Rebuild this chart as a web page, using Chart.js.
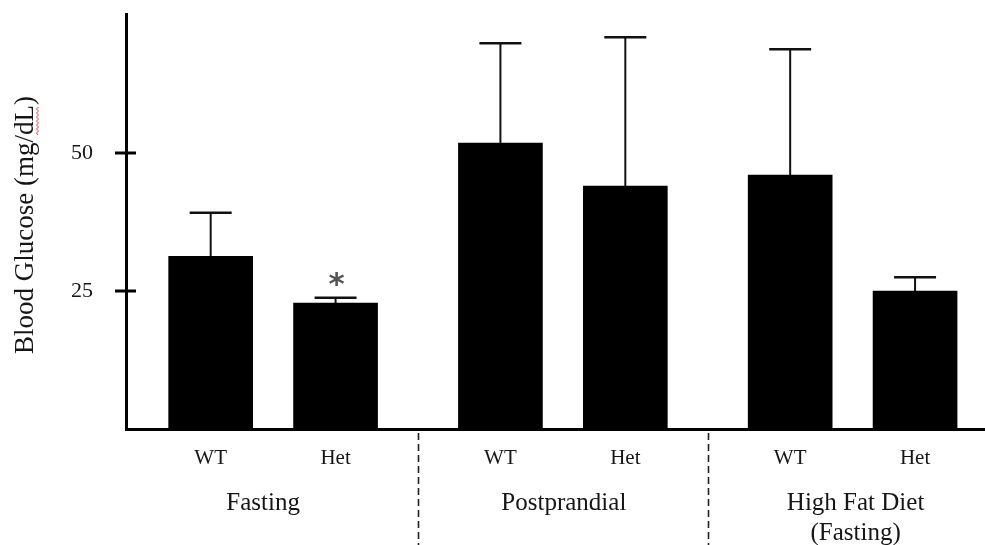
<!DOCTYPE html>
<html>
<head>
<meta charset="utf-8">
<script src="https://cdn.jsdelivr.net/npm/chart.js@4.4.1/dist/chart.umd.min.js"></script>
<style>
  html, body { margin: 0; padding: 0; background: #fff; }
  #wrap { width: 985px; height: 545px; }
</style>
</head>
<body>
<div id="wrap"><canvas id="c" width="985" height="545"></canvas></div>
<script>
// Blood glucose by genotype under three feeding conditions
const GROUPS = ['Fasting', 'Postprandial', ['High Fat Diet', '(Fasting)']];
const GENOTYPES = ['WT', 'Het'];
const MEAN_WT = [31.3, 51.8, 46.0];
const MEAN_HET = [22.8, 44.0, 25.0];
const SD_WT = [7.9, 18.1, 22.8];
const SD_HET = [1.0, 27.0, 2.5];
const MARK_WT = ['', '', ''];
const MARK_HET = ['*', '', ''];
const Y_TICKS = [25, 50];
const Y_MAX = 75.2;
const Y_TITLE = 'Blood Glucose (mg/dL)';

// spacing of the bars on the linear x axis (one unit between WT and Het)
const GROUP_STEP = 2.32;

const SERIF = "'Liberation Serif', 'Times New Roman', serif";
const INK = '#161616';

// one entry per bar, built from the arrays above
const bars = [];
GROUPS.forEach((g, gi) => {
  bars.push({ x: gi * GROUP_STEP, y: MEAN_WT[gi], sd: SD_WT[gi], mark: MARK_WT[gi], label: GENOTYPES[0] });
  bars.push({ x: gi * GROUP_STEP + 1, y: MEAN_HET[gi], sd: SD_HET[gi], mark: MARK_HET[gi], label: GENOTYPES[1] });
});

const decor = {
  id: 'decor',
  afterDatasetsDraw(chart) {
    const ctx = chart.ctx;
    const xs = chart.scales.x, ys = chart.scales.y;
    const area = chart.chartArea;
    ctx.save();
    // upper error bars with caps
    bars.forEach(b => {
      const px = xs.getPixelForValue(b.x);
      const top = ys.getPixelForValue(b.y);
      const end = ys.getPixelForValue(b.y + b.sd);
      ctx.strokeStyle = '#111';
      ctx.lineWidth = 2;
      ctx.beginPath();
      ctx.moveTo(px, top);
      ctx.lineTo(px, end);
      ctx.stroke();
      ctx.lineWidth = 2.5;
      ctx.beginPath();
      ctx.moveTo(px - 21, end);
      ctx.lineTo(px + 21, end);
      ctx.stroke();
      if (b.mark) {
        ctx.fillStyle = '#555';
        ctx.font = "bold 31px 'DejaVu Sans', sans-serif";
        ctx.textAlign = 'center';
        ctx.textBaseline = 'alphabetic';
        ctx.fillText(b.mark, px + 1, end - 4);
      }
    });
    // tick marks crossing the y axis
    ctx.strokeStyle = '#000';
    ctx.lineWidth = 3;
    Y_TICKS.forEach(v => {
      const py = Math.round(ys.getPixelForValue(v));
      ctx.beginPath();
      ctx.moveTo(area.left - 11, py);
      ctx.lineTo(area.left + 10, py);
      ctx.stroke();
    });
    ctx.restore();
  },
  afterDraw(chart) {
    const ctx = chart.ctx;
    const xs = chart.scales.x;
    const area = chart.chartArea;
    ctx.save();
    // dashed separators between condition groups
    ctx.strokeStyle = '#222';
    ctx.lineWidth = 1.6;
    ctx.setLineDash([7, 4]);
    for (let gi = 0; gi < GROUPS.length - 1; gi++) {
      const mid = (gi * GROUP_STEP + 1 + (gi + 1) * GROUP_STEP) / 2;
      const px = Math.round(xs.getPixelForValue(mid)) + 0.5;
      ctx.beginPath();
      ctx.moveTo(px, area.bottom + 4);
      ctx.lineTo(px, chart.height);
      ctx.stroke();
    }
    ctx.setLineDash([]);
    // condition labels under each pair of bars (small horizontal nudges in px)
    const nudge = [-10, 1, 3];
    ctx.fillStyle = INK;
    ctx.font = '25px ' + SERIF;
    ctx.textAlign = 'center';
    ctx.textBaseline = 'middle';
    GROUPS.forEach((g, gi) => {
      const cx = xs.getPixelForValue(gi * GROUP_STEP + 0.5) + nudge[gi];
      const lines = Array.isArray(g) ? g : [g];
      lines.forEach((t, li) => ctx.fillText(t, cx, 503 + li * 30));
    });
    // rotated y axis title
    ctx.font = '27px ' + SERIF;
    ctx.textAlign = 'center';
    ctx.textBaseline = 'alphabetic';
    const cy = 225, bx = 33;
    ctx.translate(bx, cy);
    ctx.rotate(-Math.PI / 2);
    ctx.fillText(Y_TITLE, 0, 0);
    // spell-check style wavy underline beneath "dL"
    const full = ctx.measureText(Y_TITLE).width;
    const startIdx = Y_TITLE.indexOf('dL');
    const x0 = -full / 2 + ctx.measureText(Y_TITLE.slice(0, startIdx)).width;
    const x1 = x0 + ctx.measureText('dL').width;
    ctx.strokeStyle = '#e04040';
    ctx.lineWidth = 1;
    ctx.beginPath();
    let up = true;
    ctx.moveTo(x0, 5);
    for (let x = x0 + 2; x <= x1; x += 2) {
      ctx.lineTo(x, up ? 3.5 : 5.5);
      up = !up;
    }
    ctx.stroke();
    ctx.restore();
  }
};

new Chart(document.getElementById('c'), {
  type: 'bar',
  data: {
    datasets: [{
      data: bars.map(b => ({ x: b.x, y: b.y })),
      backgroundColor: '#000',
      borderWidth: 0,
      barThickness: 84,
      grouped: false
    }]
  },
  options: {
    responsive: false,
    animation: false,
    devicePixelRatio: 1,
    layout: { padding: { top: 14, left: 0, right: 0, bottom: 0 } },
    plugins: { legend: { display: false }, tooltip: { enabled: false } },
    scales: {
      x: {
        type: 'linear',
        offset: false,
        min: -0.678,
        max: (GROUPS.length - 1) * GROUP_STEP + 1 + 0.56,
        grid: { display: false },
        border: { display: true, color: '#000', width: 3 },
        afterBuildTicks: s => { s.ticks = bars.map(b => ({ value: b.x })); },
        afterFit: s => { s.height = 116; },
        ticks: {
          autoSkip: false,
          maxRotation: 0,
          padding: 9,
          color: INK,
          font: { family: SERIF, size: 21 },
          callback: (v, i) => bars[i] ? bars[i].label : ''
        }
      },
      y: {
        min: 0,
        max: Y_MAX,
        // invisible tick marks only reserve the gap between labels and axis
        grid: { display: true, drawOnChartArea: false, drawTicks: true, tickLength: 33, color: 'rgba(0,0,0,0)' },
        border: { display: true, color: '#000', width: 3 },
        afterBuildTicks: s => { s.ticks = Y_TICKS.map(v => ({ value: v })); },
        afterFit: s => { s.width = 126; },
        ticks: {
          padding: 0,
          color: INK,
          font: { family: SERIF, size: 22 }
        }
      }
    }
  },
  plugins: [decor]
});
</script>
</body>
</html>
